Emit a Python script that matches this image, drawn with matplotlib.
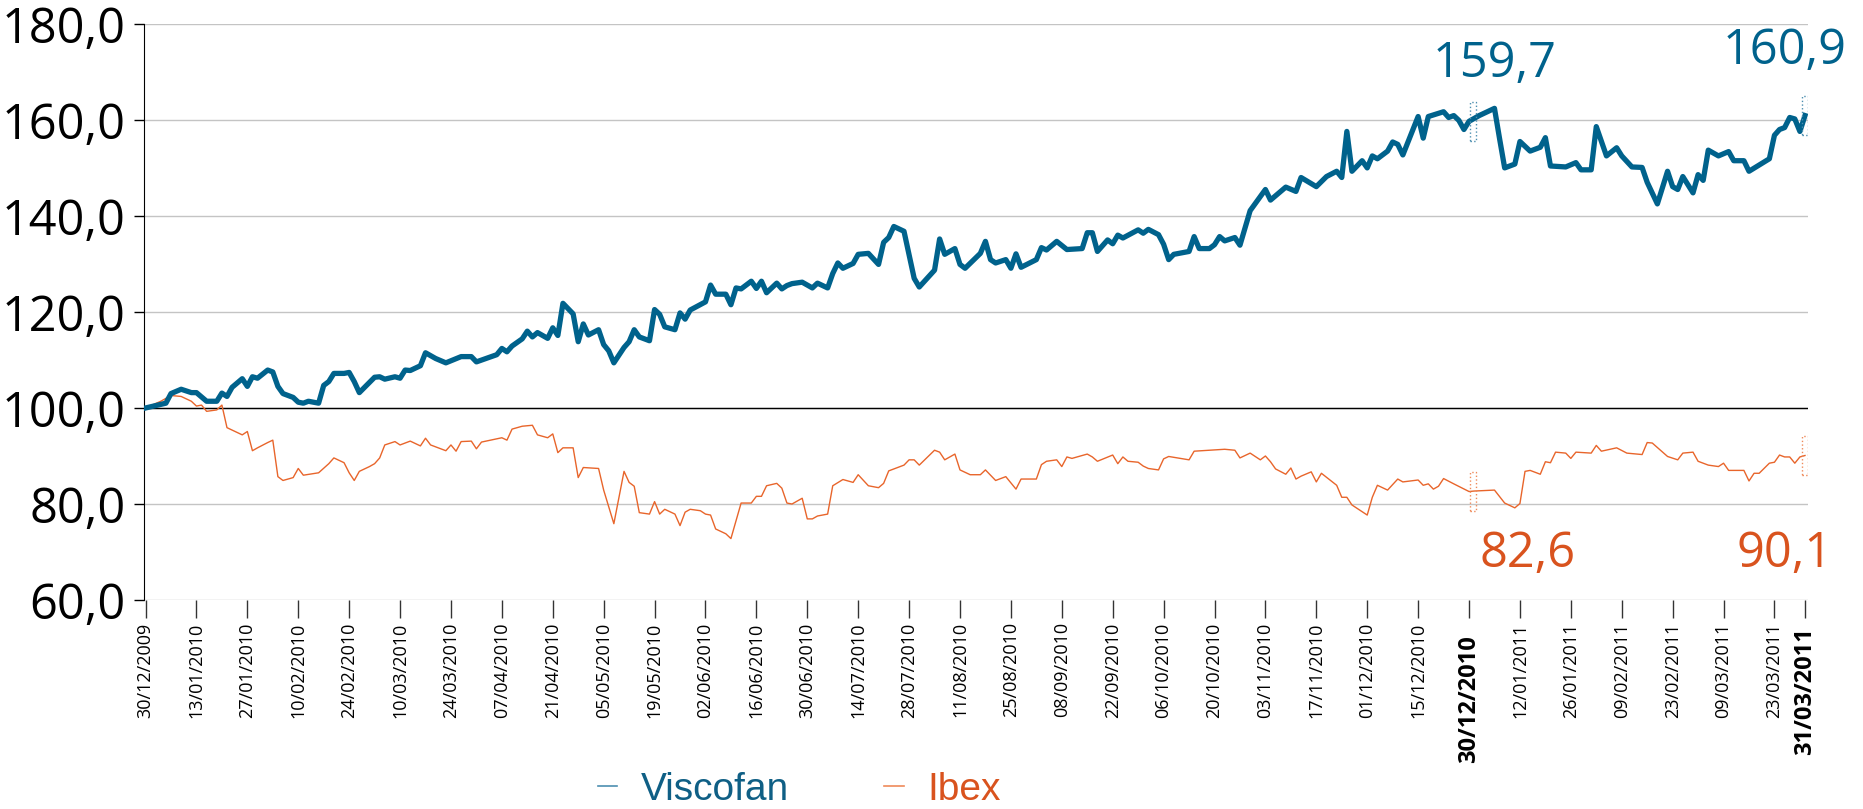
import matplotlib
matplotlib.use("Agg")
import matplotlib.pyplot as plt
from matplotlib.lines import Line2D
from matplotlib.patches import Rectangle
from matplotlib.ticker import FuncFormatter

# =============================================================================
#                   Data (trading day number, base 100 = 30/12/2009)
# =============================================================================
visc_day = [0, 4, 5, 7, 9, 10, 12, 14, 15, 16, 17, 19, 20, 21, 22, 24, 25, 26, 27,
            29, 30, 31, 32, 34, 35, 36, 37, 39, 40, 41, 42, 45, 46, 47, 49, 50, 51,
            52, 54, 55, 57, 59, 62, 64, 65, 69, 70, 71, 72, 74, 75, 76, 77, 79, 80,
            81, 82, 84, 85, 86, 87, 89, 90, 91, 92, 94, 95, 96, 97, 99, 100, 101,
            102, 104, 105, 106, 107, 110, 111, 112, 114, 115, 116, 117, 119, 120,
            121, 122, 124, 125, 126, 127, 129, 131, 132, 134, 135, 136, 137, 139,
            140, 142, 144, 145, 146, 147, 149, 151, 152, 155, 156, 157, 159, 160,
            161, 164, 165, 166, 167, 169, 170, 171, 172, 175, 176, 177, 179, 181,
            184, 185, 186, 187, 189, 190, 191, 192, 195, 196, 197, 199, 200, 201,
            202, 205, 206, 207, 209, 210, 211, 212, 214, 215, 217, 220, 221, 224,
            226, 227, 230, 232, 234, 235, 236, 237, 239, 240, 241, 242, 244, 245,
            246, 247, 250, 251, 252, 255, 256, 257, 258, 259, 260, 262, 265, 266,
            267, 269, 270, 272, 274, 275, 276, 279, 281, 282, 284, 285, 287, 289,
            290, 292, 294, 295, 297, 299, 300, 301, 302, 304, 305, 306, 307, 309,
            311, 312, 314, 315, 319, 320, 321, 322, 323, 324, 325, 326]
visc_val = [100.0, 101.0, 103.0, 103.9, 103.2, 103.2, 101.4, 101.4, 103.1, 102.4,
            104.3, 106.1, 104.5, 106.5, 106.2, 107.9, 107.5, 104.5, 103.0, 102.2,
            101.2, 101.0, 101.4, 101.0, 104.7, 105.5, 107.2, 107.2, 107.4, 105.5,
            103.2, 106.4, 106.5, 106.0, 106.5, 106.2, 107.9, 107.8, 108.8, 111.5,
            110.3, 109.4, 110.7, 110.7, 109.6, 111.1, 112.4, 111.7, 112.9, 114.4,
            116.0, 114.8, 115.7, 114.5, 116.7, 115.1, 121.8, 119.6, 113.8, 117.5,
            115.2, 116.3, 113.2, 111.9, 109.4, 112.6, 113.8, 116.3, 114.8, 114.0,
            120.5, 119.5, 116.9, 116.3, 119.8, 118.5, 120.4, 122.1, 125.6, 123.7,
            123.7, 121.5, 125.0, 124.8, 126.4, 124.9, 126.4, 124.0, 126.0, 124.8,
            125.5, 125.9, 126.2, 125.0, 126.0, 125.0, 128.0, 130.2, 129.1, 130.1,
            132.0, 132.2, 129.9, 134.5, 135.5, 137.8, 136.8, 127.0, 125.2, 128.7,
            135.2, 132.0, 133.2, 129.9, 129.1, 132.2, 134.7, 130.9, 130.2, 130.9,
            129.1, 132.1, 129.3, 130.9, 133.4, 132.9, 134.7, 133.0, 133.2, 136.5,
            136.5, 132.6, 135.0, 134.2, 136.0, 135.4, 137.1, 136.4, 137.2, 136.1,
            134.1, 130.9, 132.0, 132.6, 135.7, 133.2, 133.2, 134.0, 135.7, 134.8,
            135.5, 133.9, 141.1, 145.5, 143.3, 146.0, 145.1, 148.0, 146.1, 148.2,
            149.3, 148.0, 157.6, 149.3, 151.5, 150.0, 152.5, 151.9, 153.5, 155.4,
            154.9, 152.7, 160.7, 156.2, 160.7, 161.7, 160.5, 160.9, 159.9, 158.0,
            159.7, 160.9, 162.4, 156.1, 150.0, 150.8, 155.5, 153.5, 154.3, 156.3,
            150.4, 150.2, 151.1, 149.6, 149.6, 158.6, 152.5, 154.2, 152.5, 150.2,
            150.1, 147.0, 142.5, 149.3, 146.1, 145.5, 148.2, 144.8, 148.6, 147.4,
            153.7, 152.5, 153.4, 151.5, 151.5, 149.3, 151.9, 156.8, 158.0, 158.4,
            160.5, 160.2, 157.6, 160.9]

ibex_day = [0, 3, 5, 7, 9, 10, 11, 12, 14, 15, 16, 19, 20, 21, 22, 24, 25, 26, 27,
            29, 30, 31, 34, 36, 37, 39, 40, 41, 42, 44, 45, 46, 47, 49, 50, 51, 52,
            54, 55, 56, 59, 60, 61, 62, 64, 65, 66, 70, 71, 72, 74, 76, 77, 79, 80,
            81, 82, 84, 85, 86, 89, 90, 92, 94, 95, 96, 97, 99, 100, 101, 102, 104,
            105, 106, 107, 109, 110, 111, 112, 114, 115, 117, 119, 120, 121, 122,
            124, 125, 126, 127, 129, 130, 131, 132, 134, 135, 137, 139, 140, 142,
            144, 145, 146, 149, 150, 151, 152, 155, 156, 157, 159, 160, 162, 164,
            165, 167, 169, 171, 172, 175, 176, 177, 179, 180, 181, 182, 185, 186,
            187, 190, 191, 192, 193, 195, 196, 197, 199, 200, 201, 205, 206, 209,
            212, 214, 215, 217, 219, 220, 221, 222, 224, 225, 226, 227, 229, 230,
            231, 234, 235, 236, 237, 240, 241, 242, 244, 246, 247, 250, 251, 252,
            253, 254, 255, 257, 260, 261, 265, 267, 269, 270, 271, 272, 274, 275,
            276, 277, 279, 280, 281, 284, 285, 286, 289, 291, 294, 295, 296, 299,
            301, 302, 304, 305, 307, 309, 310, 311, 314, 315, 316, 317, 319, 320,
            321, 322, 323, 324, 325, 326]
ibex_val = [100.0, 101.4, 102.6, 102.4, 101.4, 100.4, 100.6, 99.3, 99.6, 100.6,
            95.9, 94.4, 95.1, 91.1, 91.7, 92.8, 93.3, 85.7, 84.9, 85.5, 87.4, 86.0,
            86.5, 88.4, 89.6, 88.6, 86.5, 84.9, 86.8, 87.8, 88.4, 89.6, 92.3, 93.0,
            92.3, 92.7, 93.1, 92.1, 93.7, 92.3, 91.1, 92.3, 91.0, 93.0, 93.1, 91.5,
            92.9, 93.8, 93.3, 95.6, 96.2, 96.4, 94.4, 93.8, 94.6, 90.7, 91.7, 91.7,
            85.5, 87.6, 87.4, 82.9, 75.9, 86.8, 84.5, 83.7, 78.2, 77.9, 80.5, 77.9,
            78.9, 77.9, 75.5, 78.3, 78.9, 78.6, 77.9, 77.7, 74.8, 73.8, 72.8, 80.2,
            80.2, 81.6, 81.6, 83.8, 84.3, 83.3, 80.2, 80.0, 81.2, 76.9, 76.9, 77.5,
            77.9, 83.8, 85.1, 84.5, 86.1, 83.8, 83.4, 84.3, 86.9, 88.1, 89.2, 89.2,
            88.1, 91.2, 90.8, 89.2, 90.4, 87.1, 86.1, 86.1, 87.1, 84.9, 85.7, 83.1,
            85.2, 85.2, 88.2, 88.9, 89.2, 87.8, 89.8, 89.5, 90.4, 89.8, 88.9, 90.2,
            88.4, 89.8, 88.9, 88.7, 87.9, 87.4, 87.1, 89.4, 89.9, 89.2, 91.0, 91.2,
            91.4, 91.2, 89.6, 90.6, 89.2, 90.0, 88.8, 87.3, 86.2, 87.5, 85.2, 85.8,
            86.7, 84.6, 86.4, 83.9, 81.4, 81.4, 79.8, 77.7, 81.4, 83.9, 82.9, 85.2,
            84.6, 85.0, 83.9, 84.2, 83.1, 83.7, 85.3, 84.2, 82.6, 82.7, 82.9, 80.2,
            79.2, 80.1, 86.8, 87.0, 86.2, 88.8, 88.6, 90.8, 90.6, 89.5, 90.8, 90.6,
            92.2, 91.0, 91.7, 90.6, 90.3, 92.8, 92.7, 89.9, 89.2, 90.6, 90.8, 88.9,
            88.1, 87.8, 88.5, 87.0, 87.0, 84.8, 86.4, 86.4, 88.5, 88.7, 90.2, 89.8,
            89.8, 88.5, 89.8, 90.1]

tick_day = list(range(0, 251, 10)) + [260] + list(range(270, 321, 10)) + [326]
tick_lab = ["30/12/2009", "13/01/2010", "27/01/2010", "10/02/2010", "24/02/2010",
            "10/03/2010", "24/03/2010", "07/04/2010", "21/04/2010", "05/05/2010",
            "19/05/2010", "02/06/2010", "16/06/2010", "30/06/2010", "14/07/2010",
            "28/07/2010", "11/08/2010", "25/08/2010", "08/09/2010", "22/09/2010",
            "06/10/2010", "20/10/2010", "03/11/2010", "17/11/2010", "01/12/2010",
            "15/12/2010", "30/12/2010", "12/01/2011", "26/01/2011", "09/02/2011",
            "23/02/2011", "09/03/2011", "23/03/2011", "31/03/2011"]
bold_lab = ["30/12/2010", "31/03/2011"]

# highlighted closes (30/12/2010 and 31/03/2011)
mark_day = [260.8, 326]
visc_mark = [159.7, 160.9]
ibex_mark = [82.6, 90.1]

BLUE = "#00628c"
ORANGE = "#e8652b"
ORANGE_TXT = "#d9531e"

plt.rcParams['font.family'] = ['Open Sans', 'DejaVu Sans']

fig = plt.figure(figsize=(18.63, 8.09), dpi=100)
ax = fig.add_axes([0.0773, 0.2583, 0.8932, 0.7122])

ax.plot(ibex_day, ibex_val, color=ORANGE, lw=1.0, zorder=3)
ax.plot(visc_day, visc_val, color=BLUE, lw=3.8, solid_joinstyle='round', zorder=4)

# dotted boxes + value labels
for d, v in zip(mark_day, visc_mark):
    ax.add_patch(Rectangle((d - 0.6, v - 4), 1.2, 8, fill=False, ls=':',
                           lw=1.0, ec='#4d8fb0', zorder=5))
for d, v in zip(mark_day, ibex_mark):
    ax.add_patch(Rectangle((d - 0.6, v - 4), 1.2, 8, fill=False, ls=':',
                           lw=1.0, ec='#ef8a5a', zorder=5))

fmt = lambda v: f"{v:.1f}".replace('.', ',')
ax.text(265, 171.6, fmt(visc_mark[0]), color=BLUE, fontsize=35, ha='center', va='center')
ax.text(322, 174.4, fmt(visc_mark[1]), color=BLUE, fontsize=35, ha='center', va='center')
ax.text(271.5, 69.6, fmt(ibex_mark[0]), color=ORANGE_TXT, fontsize=35, ha='center', va='center')
ax.text(322, 69.6, fmt(ibex_mark[1]), color=ORANGE_TXT, fontsize=35, ha='center', va='center')

# axes
ax.set_xlim(-0.3, 326.6)
ax.set_ylim(60, 180)
ax.set_yticks(range(60, 181, 20))
ax.yaxis.set_major_formatter(FuncFormatter(lambda v, p: fmt(v)))
ax.grid(axis='y', color='#c4c4c4', lw=1.0)
ax.axhline(100, color='black', lw=1.0, zorder=2)
for s in ['top', 'right', 'bottom']:
    ax.spines[s].set_visible(False)
ax.spines['left'].set_color('black')
ax.tick_params(axis='y', labelsize=35, length=7, width=1, pad=6, colors='black')

ax.set_xticks(tick_day)
ax.set_xticklabels(tick_lab, rotation=90, fontsize=13)
ax.tick_params(axis='x', length=13, width=1, color='#333333', pad=3)
for t, lab in zip(ax.xaxis.get_major_ticks(), tick_lab):
    if lab in bold_lab:
        t.label1.set_fontweight('bold')
        t.label1.set_fontsize(17)
        t.set_pad(12 if lab == bold_lab[0] else 6.5)

handles = [Line2D([], [], color='#4d8fb0', lw=1.2), Line2D([], [], color='#ef8a5a', lw=1.2)]
fig.legend(handles, ['Viscofan', 'Ibex'], loc='center', bbox_to_anchor=(0.429, 0.024),
           ncol=2, frameon=False, handlelength=0.5, handletextpad=0.6,
           columnspacing=2.45, labelcolor=['#0f5f85', ORANGE_TXT],
           prop={'family': ['Liberation Sans', 'DejaVu Sans'], 'size': 28})

fig.savefig('out.png', dpi=100)
